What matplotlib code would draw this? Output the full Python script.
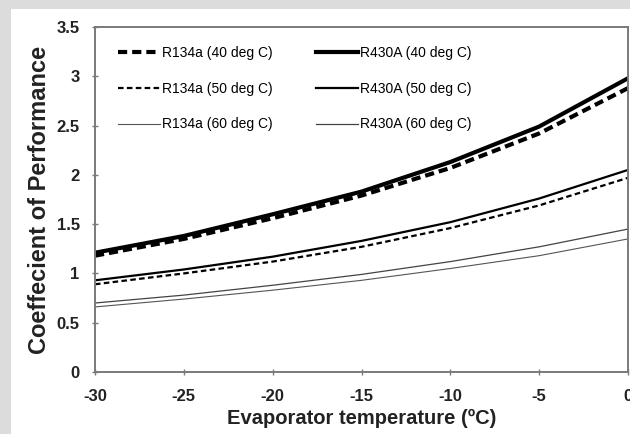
import matplotlib
matplotlib.use("Agg")
import matplotlib.pyplot as plt
from matplotlib.patches import Rectangle

plt.rcParams['font.family'] = ['Liberation Sans', 'DejaVu Sans']

# evaporator temperature (deg C)
temps = [-30, -25, -20, -15, -10, -5, 0]

# COP
r134a_40 = [1.18, 1.35, 1.56, 1.79, 2.07, 2.42, 2.88]
r430a_40 = [1.21, 1.38, 1.60, 1.83, 2.13, 2.49, 2.98]
r134a_50 = [0.89, 1.00, 1.12, 1.27, 1.46, 1.69, 1.97]
r430a_50 = [0.93, 1.04, 1.17, 1.33, 1.52, 1.76, 2.05]
r134a_60 = [0.66, 0.74, 0.83, 0.93, 1.05, 1.18, 1.35]
r430a_60 = [0.70, 0.78, 0.88, 0.99, 1.12, 1.27, 1.45]

fig = plt.figure(figsize=(6.3, 4.34), dpi=100)
fig.patch.set_facecolor('#dcdcdc')
# white panel the chart sits on
fig.patches.append(Rectangle((11 / 630, 0), 1, 1 - 9 / 434, transform=fig.transFigure,
                             facecolor='white', edgecolor='none', zorder=-5))

ax = fig.add_axes([95 / 630, 1 - 372 / 434, 533 / 630, 345 / 434])
ax.set_zorder(2)
ax.set_facecolor('white')

ax.plot(temps, r134a_40, color='black', lw=3.0, ls=(0, (2.2, 1.2)), label='R134a (40 deg C)')
ax.plot(temps, r134a_50, color='black', lw=1.6, ls=(0, (2.5, 1.5)), label='R134a (50 deg C)')
ax.plot(temps, r134a_60, color='#555555', lw=0.8, label='R134a (60 deg C)')
ax.plot(temps, r430a_40, color='black', lw=3.0, label='R430A (40 deg C)')
ax.plot(temps, r430a_50, color='black', lw=1.6, label='R430A (50 deg C)')
ax.plot(temps, r430a_60, color='#444444', lw=0.9, label='R430A (60 deg C)')

ax.set_xlim(-30, 0)
ax.set_ylim(0, 3.5)
ax.set_xticks(temps)
ax.set_xticklabels([str(t) for t in temps])
ax.set_yticks([0, 0.5, 1, 1.5, 2, 2.5, 3, 3.5])
ax.set_yticklabels(['0', '0.5', '1', '1.5', '2', '2.5', '3', '3.5'])

for s in ax.spines.values():
    s.set_color('#7a7a7a')
    s.set_linewidth(1.4)
ax.tick_params(axis='both', labelsize=12, colors='#7a7a7a', labelcolor='#222222',
               width=1, length=4, direction='inout')
ax.tick_params(axis='y', pad=9)
ax.tick_params(axis='x', pad=10)
for lab in ax.get_xticklabels() + ax.get_yticklabels():
    lab.set_fontweight('bold')

ax.set_xlabel('Evaporator temperature (ºC)', fontsize=14.5, fontweight='bold', color='#222222', labelpad=4)
ax.set_ylabel('Coeffecient of Performance', fontsize=17, fontweight='bold', color='#222222', labelpad=4)

ax.legend(ncol=2, frameon=False, loc='upper left', bbox_to_anchor=(23 / 533, 0.944),
          fontsize=10, handlelength=3.0, handletextpad=0.15, columnspacing=3.15,
          labelspacing=1.55, borderaxespad=0, borderpad=0)

fig.savefig('out.png', dpi=100, facecolor=fig.get_facecolor())
